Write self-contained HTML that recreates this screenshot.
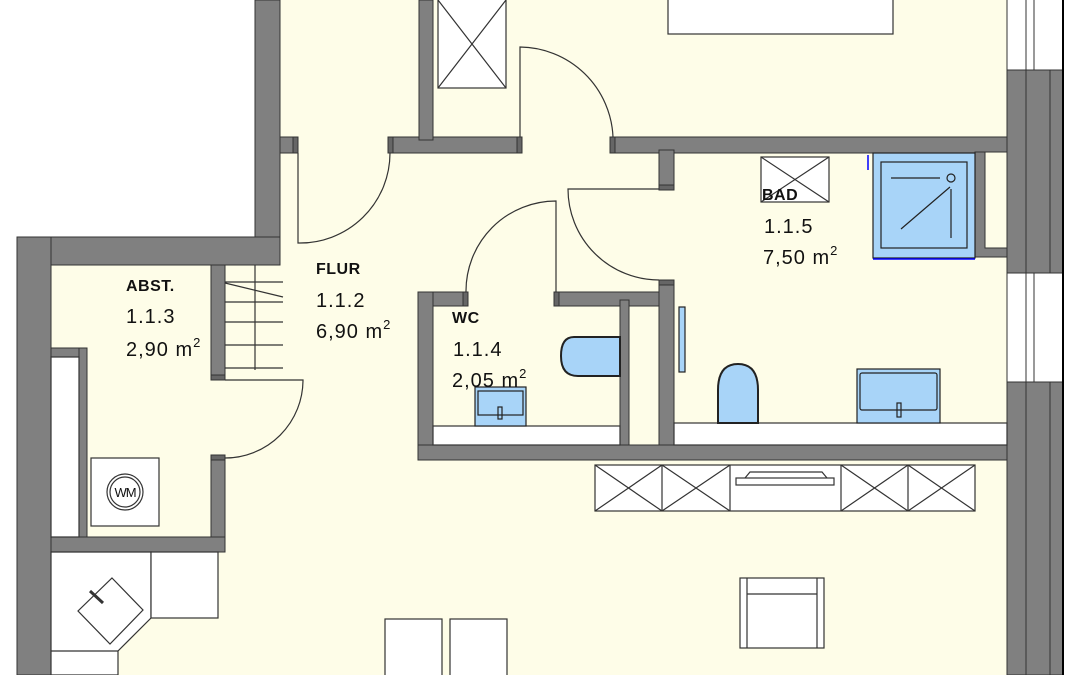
<!DOCTYPE html>
<html><head><meta charset="utf-8"><style>
html,body{margin:0;padding:0;background:#fff;}
svg{display:block;}
text{font-family:"Liberation Sans",Arial,sans-serif;fill:#111;}
</style></head><body>
<svg width="1080" height="675" viewBox="0 0 1080 675" xmlns="http://www.w3.org/2000/svg">
<rect width="1080" height="675" fill="#fff"/>
<path d="M280 0 H1007 V675 H51 V265 H280 Z" fill="#fefde8"/>
<g fill="#808080" stroke="#333" stroke-width="1">
<rect x="255" y="0" width="25" height="265"/>
<rect x="17" y="237" width="263" height="28"/>
<rect x="17" y="237" width="34" height="438"/>
<rect x="211" y="265" width="14" height="112"/>
<rect x="211" y="455" width="14" height="97"/>
<rect x="51" y="537" width="174" height="15"/>
<rect x="51" y="348" width="36" height="9"/>
<rect x="79" y="348" width="8" height="189"/>
<rect x="280" y="137" width="16" height="16"/>
<rect x="390" y="137" width="130" height="16"/>
<rect x="419" y="0" width="14" height="140"/>
<rect x="613" y="137" width="394" height="16"/>
<rect x="659" y="150" width="15" height="38"/>
<rect x="418" y="292" width="48" height="14"/>
<rect x="418" y="292" width="15" height="168"/>
<rect x="556" y="292" width="118" height="14"/>
<rect x="620" y="300" width="9" height="148"/>
<rect x="659" y="280" width="15" height="170"/>
<rect x="418" y="445" width="589" height="15"/>
<rect x="1007" y="70" width="56" height="203"/>
<rect x="1007" y="382" width="56" height="293"/>
<rect x="975" y="152" width="32" height="105"/>
</g>
<g stroke="#333" stroke-width="1">
<line x1="1026" y1="70" x2="1026" y2="273"/><line x1="1050" y1="70" x2="1050" y2="273"/>
<line x1="1026" y1="382" x2="1026" y2="675"/><line x1="1050" y1="382" x2="1050" y2="675"/>
<line x1="1026" y1="0" x2="1026" y2="70"/><line x1="1034" y1="0" x2="1034" y2="70"/>
<line x1="1026" y1="273" x2="1026" y2="382"/><line x1="1034" y1="273" x2="1034" y2="382"/>
<line x1="1007" y1="0" x2="1007" y2="675"/>
</g>
<line x1="1063" y1="0" x2="1063" y2="675" stroke="#000" stroke-width="2"/>
<rect x="985" y="152" width="22" height="96" fill="#fefde8" stroke="#333"/>
<g fill="#666" stroke="#333">
<rect x="293" y="137" width="5" height="16"/><rect x="388" y="137" width="5" height="16"/>
<rect x="517" y="137" width="5" height="16"/><rect x="610" y="137" width="5" height="16"/>
<rect x="659" y="185" width="15" height="5"/><rect x="659" y="280" width="15" height="5"/>
<rect x="463" y="292" width="5" height="14"/><rect x="554" y="292" width="5" height="14"/>
<rect x="211" y="375" width="14" height="5"/><rect x="211" y="455" width="14" height="5"/>
</g>
<g fill="#fff" stroke="#333" stroke-width="1.2">
<rect x="438" y="-2" width="68" height="90"/>
<rect x="668" y="-2" width="225" height="36"/>
<rect x="761" y="157" width="68" height="45"/>
<rect x="51" y="357" width="28" height="180"/>
<rect x="91" y="458" width="68" height="68"/>
<rect x="433" y="426" width="187" height="19"/>
<rect x="674" y="423" width="333" height="22"/>
<path d="M51 552 H151 V618 L118 651 V675 H51 Z"/>
<rect x="151" y="552" width="67" height="66"/>
<path d="M51 651 H118"/>
<rect x="595" y="465" width="380" height="46"/>
<rect x="740" y="578" width="84" height="70"/>
<rect x="385" y="619" width="57" height="60"/>
<rect x="450" y="619" width="57" height="60"/>
</g>
<g fill="none" stroke="#333" stroke-width="1.2">
<path d="M438 0 L506 88 M506 0 L438 88"/>
<path d="M761 157 L829 202 M829 157 L761 202"/>
<path d="M662 465 V511 M730 465 V511 M841 465 V511 M908 465 V511"/>
<path d="M595 465 L662 511 M662 465 L595 511 M662 465 L730 511 M730 465 L662 511"/>
<path d="M841 465 L908 511 M908 465 L841 511 M908 465 L975 511 M975 465 L908 511"/>
<rect x="736" y="478" width="98" height="7"/>
<path d="M745 478 L750 472 H822 L827 478"/>
<path d="M747 578 V648 M817 578 V648 M747 594 H817"/>
<circle cx="125" cy="492" r="18"/><circle cx="125" cy="492" r="15"/>
<path d="M112 578 L143 610 L110 644 L78 611 Z"/>
<path d="M90 591 L103 603" stroke-width="3"/>
<path d="M225 282 H283 M225 302 H283 M225 322 H283 M225 345 H283 M225 368 H283 M255 265 V370 M225 283 L283 297"/>
<path d="M298 153 V243 A90 90 0 0 0 390 153"/>
<path d="M520 137 V47 A94 94 0 0 1 613 137"/>
<path d="M659 189 H568 A91 91 0 0 0 659 280"/>
<path d="M556 292 V201 A90 90 0 0 0 466 292"/>
<path d="M225 380 H303 A78 78 0 0 1 225 458"/>
</g>
<text x="125" y="497" font-size="13" text-anchor="middle" letter-spacing="-1">WM</text>
<g fill="#a8d4f8" stroke="#222" stroke-width="1.2">
<rect x="873" y="153" width="102" height="105"/>
<rect x="881" y="162" width="86" height="86" fill="none"/>
<path d="M620 337 H574 Q561 337 561 356 Q561 376 578 376 H620 Z" stroke-width="2"/>
<path d="M718 423 V390 Q718 364 738 364 Q758 364 758 390 V423 Z" stroke-width="2"/>
<rect x="857" y="369" width="83" height="54"/>
<rect x="860" y="373" width="77" height="37" rx="2"/>
<rect x="475" y="387" width="51" height="39"/>
<rect x="478" y="391" width="45" height="24"/>
<rect x="679" y="307" width="6" height="65"/>
</g>
<g fill="none" stroke="#222" stroke-width="1.2">
<path d="M891 178 H940 M950 187 L901 229 M951 189 V238"/><circle cx="951" cy="178" r="4"/>
<rect x="897" y="403" width="4" height="14"/><rect x="498" y="407" width="4" height="12"/>
</g>
<path d="M873 259 H975" stroke="#00f" stroke-width="1.5"/>
<path d="M868 155 V170" stroke="#00f" stroke-width="1.5"/>
<g font-size="16" font-weight="bold" letter-spacing="0.5"><text x="126" y="291">ABST.</text><text x="316" y="274">FLUR</text><text x="452" y="323">WC</text><text x="762" y="200">BAD</text></g>
<g font-size="20" letter-spacing="1">
<text x="126" y="323">1.1.3</text><text x="126" y="356">2,90 m<tspan font-size="13" dy="-9" letter-spacing="0">2</tspan></text>
<text x="316" y="307">1.1.2</text><text x="316" y="338">6,90 m<tspan font-size="13" dy="-9" letter-spacing="0">2</tspan></text>
<text x="453" y="356">1.1.4</text><text x="452" y="387">2,05 m<tspan font-size="13" dy="-9" letter-spacing="0">2</tspan></text>
<text x="764" y="233">1.1.5</text><text x="763" y="264">7,50 m<tspan font-size="13" dy="-9" letter-spacing="0">2</tspan></text>
</g>
</svg>
</body></html>
